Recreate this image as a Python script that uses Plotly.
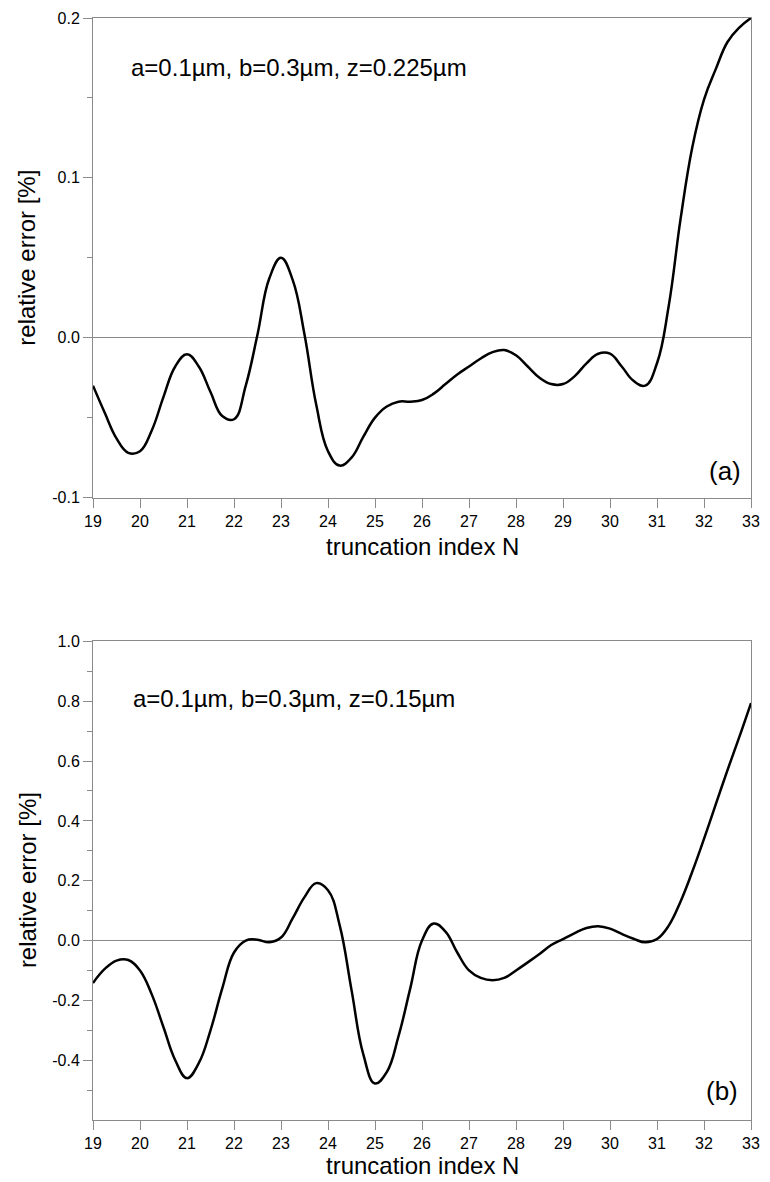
import plotly.graph_objects as go

# ---- data (values at quarter steps of N) ----
x_a = [19.0, 19.25, 19.5, 19.75, 20.0, 20.25, 20.5, 20.75, 21.0, 21.25, 21.5, 21.75,
       22.0, 22.25, 22.5, 22.75, 23.0, 23.25, 23.5, 23.75, 24.0, 24.25, 24.5, 24.75,
       25.0, 25.25, 25.5, 25.75, 26.0, 26.25, 26.5, 26.75, 27.0, 27.25, 27.5, 27.75,
       28.0, 28.25, 28.5, 28.75, 29.0, 29.25, 29.5, 29.75, 30.0, 30.25, 30.5, 30.75,
       31.0, 31.25, 31.5, 31.75, 32.0, 32.25, 32.5, 32.75, 33.0]
y_a = [-0.030, -0.047, -0.063, -0.072, -0.071, -0.058, -0.037, -0.018, -0.0104, -0.018,
       -0.034, -0.049, -0.051, -0.030, 0.002, 0.037, 0.050, 0.036, 0.002, -0.042,
       -0.071, -0.080, -0.075, -0.062, -0.050, -0.043, -0.040, -0.040, -0.039, -0.035,
       -0.029, -0.023, -0.018, -0.013, -0.009, -0.0077, -0.011, -0.018, -0.025, -0.029,
       -0.029, -0.024, -0.016, -0.010, -0.010, -0.018, -0.027, -0.030, -0.016, 0.020,
       0.074, 0.119, 0.149, 0.168, 0.185, 0.194, 0.200]

x_b = list(x_a)
y_b = [-0.142, -0.095, -0.067, -0.065, -0.100, -0.180, -0.290, -0.400, -0.460, -0.410,
       -0.300, -0.160, -0.040, 0.000, 0.003, -0.006, 0.010, 0.075, 0.145, 0.192,
       0.168, 0.050, -0.165, -0.380, -0.478, -0.440, -0.320, -0.160, 0.000, 0.057,
       0.030, -0.040, -0.100, -0.125, -0.133, -0.125, -0.100, -0.073, -0.045, -0.015,
       0.005, 0.025, 0.042, 0.048, 0.040, 0.022, 0.006, -0.006, 0.005, 0.050,
       0.130, 0.230, 0.340, 0.455, 0.570, 0.680, 0.794]

x_ticks = list(range(19, 34))
ya_ticks = [-0.1, 0.0, 0.1, 0.2]
ya_ticktext = ["-0.1", "0.0", "0.1", "0.2"]
ya_minor = [-0.05, 0.05, 0.15]
yb_ticks = [-0.4, -0.2, 0.0, 0.2, 0.4, 0.6, 0.8, 1.0]
yb_ticktext = ["-0.4", "-0.2", "0.0", "0.2", "0.4", "0.6", "0.8", "1.0"]
yb_minor = [-0.5, -0.3, -0.1, 0.1, 0.3, 0.5, 0.7, 0.9]

label_a = "a=0.1\u00b5m, b=0.3\u00b5m, z=0.225\u00b5m"
label_b = "a=0.1\u00b5m, b=0.3\u00b5m, z=0.15\u00b5m"
x_title = "truncation index N"
y_title = "relative error [%]"

FONT = "Liberation Sans, Arial, sans-serif"
AXC = "#8a8a8a"

fig = go.Figure()
fig.add_trace(go.Scatter(x=x_a, y=y_a, mode="lines", xaxis="x", yaxis="y",
                         line=dict(color="black", width=2.5, shape="spline", smoothing=1.2),
                         showlegend=False, hoverinfo="skip"))
fig.add_trace(go.Scatter(x=x_b, y=y_b, mode="lines", xaxis="x2", yaxis="y2",
                         line=dict(color="black", width=2.5, shape="spline", smoothing=1.2),
                         showlegend=False, hoverinfo="skip"))

W, H = 770, 1182
ml, mr, mt, mb = 93, 10, 17, 62
ph = H - mt - mb

def py(p):
    return (H - mb - p) / ph

def px(p):
    return (p - ml) / (W - ml - mr)

xcommon = dict(range=[19, 33], tickmode="array", tickvals=x_ticks,
               ticktext=[str(v) for v in x_ticks],
               showline=True, linecolor=AXC, linewidth=1, mirror=True,
               ticks="outside", ticklen=9, tickcolor=AXC, tickwidth=1,
               showgrid=False, zeroline=False,
               tickfont=dict(family=FONT, size=16, color="black"))
ycommon = dict(showline=True, linecolor=AXC, linewidth=1, mirror=True,
               ticks="outside", ticklen=9, tickcolor=AXC, tickwidth=1,
               showgrid=False, zeroline=True, zerolinecolor=AXC, zerolinewidth=1,
               tickfont=dict(family=FONT, size=16, color="black"))

fig.update_layout(
    width=W, height=H,
    margin=dict(l=ml, r=mr, t=mt, b=mb),
    paper_bgcolor="white", plot_bgcolor="white",
    xaxis=dict(domain=[0, 1], anchor="y", **xcommon),
    yaxis=dict(domain=[py(497), 1.0], anchor="x", range=[-0.1, 0.2],
               tickmode="array", tickvals=ya_ticks, ticktext=ya_ticktext,
               minor=dict(tickmode="array", tickvals=ya_minor, ticks="outside",
                          ticklen=5, tickcolor=AXC, tickwidth=1, showgrid=False),
               **ycommon),
    xaxis2=dict(domain=[0, 1], anchor="y2", **xcommon),
    yaxis2=dict(domain=[0, py(641)], anchor="x2", range=[-0.6, 1.0],
                tickmode="array", tickvals=yb_ticks, ticktext=yb_ticktext,
                minor=dict(tickmode="array", tickvals=yb_minor, ticks="outside",
                           ticklen=5, tickcolor=AXC, tickwidth=1, showgrid=False),
                **ycommon),
)

def ann(text, x, y, size, xanchor="center", angle=0):
    fig.add_annotation(text=text, x=x, y=y, xref="paper", yref="paper",
                       xanchor=xanchor, yanchor="middle", textangle=angle,
                       showarrow=False, font=dict(family=FONT, size=size, color="black"))

ann(label_a, px(129), py(67), 24, xanchor="left")
ann(label_b, px(132), py(698), 24, xanchor="left")
ann("(a)", px(734), py(470), 26)
ann("(b)", px(731), py(1091), 26)
ann(x_title, 0.5, py(546), 24)
ann(x_title, 0.5, py(1166), 24)
ann(y_title, px(26), py(257), 24, angle=-90)
ann(y_title, px(26), py(880), 24, angle=-90)

fig.write_html("out.html")
